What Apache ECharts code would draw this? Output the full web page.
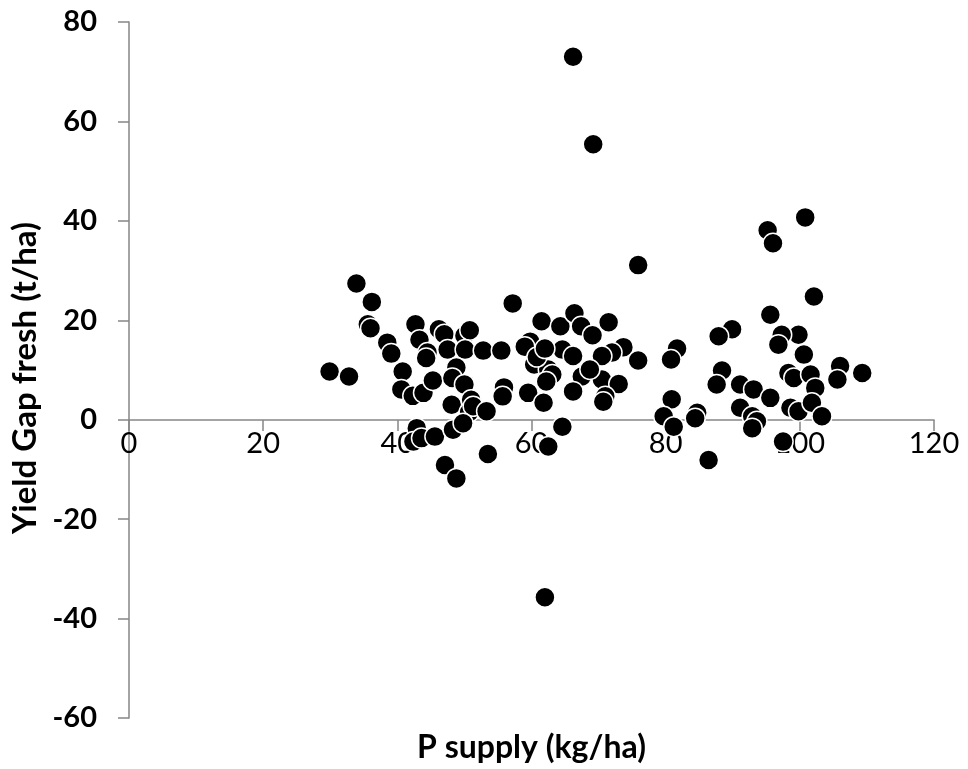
<!DOCTYPE html>
<html>
<head>
<meta charset="utf-8">
<script src="https://cdn.jsdelivr.net/npm/echarts@6/dist/echarts.min.js"></script>
<style>
  html, body { margin: 0; padding: 0; background: #fff; }
  #chart { width: 968px; height: 769px; }
</style>
</head>
<body>
<div id="chart"></div>
<script>
// P supply (kg/ha) for each field
var pSupply = [
  29.9, 32.8, 33.9, 36.2, 35.6, 36.0, 38.5, 39.1, 40.8, 40.6, 42.3, 43.9, 42.7, 43.3, 44.5, 44.3,
  45.3, 46.2, 47.0, 47.5, 50.0, 50.8, 50.1, 48.8, 48.2, 50.0, 48.1, 51.0, 50.7, 51.3, 53.3, 52.8,
  55.5, 55.9, 55.7, 57.2, 42.9, 42.4, 43.6, 45.6, 48.3, 49.8, 47.1, 48.8, 53.5,
  59.8, 59.0, 61.5, 60.4, 62.5, 63.1, 62.2, 59.5, 61.8, 64.3, 64.6, 66.2, 66.4, 67.4, 69.1, 71.5,
  73.7, 75.9, 72.0, 70.5, 67.5, 70.5, 73.0, 66.2, 71.0, 70.7, 64.6, 62.5, 62.0, 66.2, 69.2, 75.9,
  68.7, 60.8, 62.0,
  81.7, 80.8, 80.9, 79.7, 81.2, 84.7, 84.4, 86.4, 89.9, 87.9, 88.4, 87.6, 91.1, 93.1, 91.1, 92.9,
  93.6, 92.9,
  95.2, 96.0, 100.8, 102.1, 95.6, 99.8, 97.3, 96.8, 100.6, 98.3, 99.1, 101.6, 102.3, 95.6, 98.6,
  99.8, 101.8, 103.3, 106.0, 105.6, 109.3, 97.5
];
// Yield gap fresh (t/ha), same order
var yieldGap = [
  9.7, 8.7, 27.4, 23.7, 19.2, 18.4, 15.5, 13.3, 9.7, 6.1, 4.8, 5.4, 19.2, 16.1, 13.5, 12.4,
  7.9, 18.2, 17.2, 14.1, 16.9, 18.0, 14.1, 10.5, 8.4, 7.1, 3.0, 4.0, 1.5, 2.7, 1.7, 13.9,
  13.9, 6.5, 4.7, 23.4, -1.7, -4.4, -3.7, -3.4, -2.0, -0.7, -9.1, -11.8, -6.9,
  15.7, 14.7, 19.8, 11.1, 10.1, 9.1, 7.7, 5.4, 3.4, 18.8, 14.1, 12.8, 21.4, 18.8, 17.0, 19.6,
  14.6, 11.9, 13.5, 12.8, 8.7, 8.1, 7.2, 5.7, 4.7, 3.6, -1.4, -5.4, -35.7, 73.0, 55.4, 31.1,
  10.1, 12.6, 14.3,
  14.3, 12.1, 4.1, 0.7, -1.4, 1.4, 0.3, -8.1, 18.2, 16.8, 9.9, 7.1, 7.1, 6.1, 2.4, 0.7,
  -0.3, -1.7,
  38.1, 35.5, 40.7, 24.8, 21.1, 17.1, 17.1, 15.1, 13.1, 9.4, 8.4, 9.1, 6.4, 4.4, 2.4,
  1.7, 3.4, 0.7, 10.8, 8.1, 9.4, -4.4
];
var xTicks = { min: 0, max: 120, step: 20 };
var yTicks = { min: -60, max: 80, step: 20 };

var points = [];
for (var i = 0; i < pSupply.length; i++) {
  points.push([pSupply[i], yieldGap[i]]);
}

var axisGray = '#868686';
var chart = echarts.init(document.getElementById('chart'), null, { renderer: 'canvas' });
chart.setOption({
  backgroundColor: '#fff',
  animation: false,
  grid: { left: 129, right: 34, top: 22, bottom: 51, containLabel: false, outerBoundsMode: 'none' },
  xAxis: {
    type: 'value',
    z: 0,
    min: xTicks.min, max: xTicks.max, interval: xTicks.step,
    // x axis sits on y = 0; labels and name follow it
    offset: -298,
    name: 'P supply (kg/ha)',
    nameLocation: 'middle',
    nameGap: 312,
    nameTextStyle: { fontFamily: 'Lato', fontWeight: 'bold', fontSize: 32, color: '#000' },
    axisLine: { onZero: false, lineStyle: { color: axisGray, width: 1.5 } },
    axisTick: { inside: false, length: 11, lineStyle: { color: axisGray, width: 1.5 } },
    axisLabel: { margin: 9, fontFamily: 'Lato', fontSize: 29, color: '#000' },
    splitLine: { show: false }
  },
  yAxis: {
    type: 'value',
    z: 0,
    min: yTicks.min, max: yTicks.max, interval: yTicks.step,
    name: 'Yield Gap fresh (t/ha)',
    nameLocation: 'middle',
    nameGap: 86,
    nameTextStyle: { fontFamily: 'Lato', fontWeight: 'bold', fontSize: 33, color: '#000', padding: [0, 16, 0, 0] },
    axisLine: { onZero: false, lineStyle: { color: axisGray, width: 1.5 } },
    axisTick: { inside: false, length: 11, lineStyle: { color: axisGray, width: 1.5 } },
    axisLabel: { margin: 32, fontFamily: 'Lato', fontWeight: 'bold', fontSize: 29, color: '#000' },
    splitLine: { show: false }
  },
  series: [{
    type: 'scatter',
    z: 10,
    data: points,
    symbol: 'circle',
    symbolSize: 20,
    itemStyle: { color: '#000', borderColor: '#fff', borderWidth: 1.5, opacity: 1 }
  }]
});
</script>
</body>
</html>
